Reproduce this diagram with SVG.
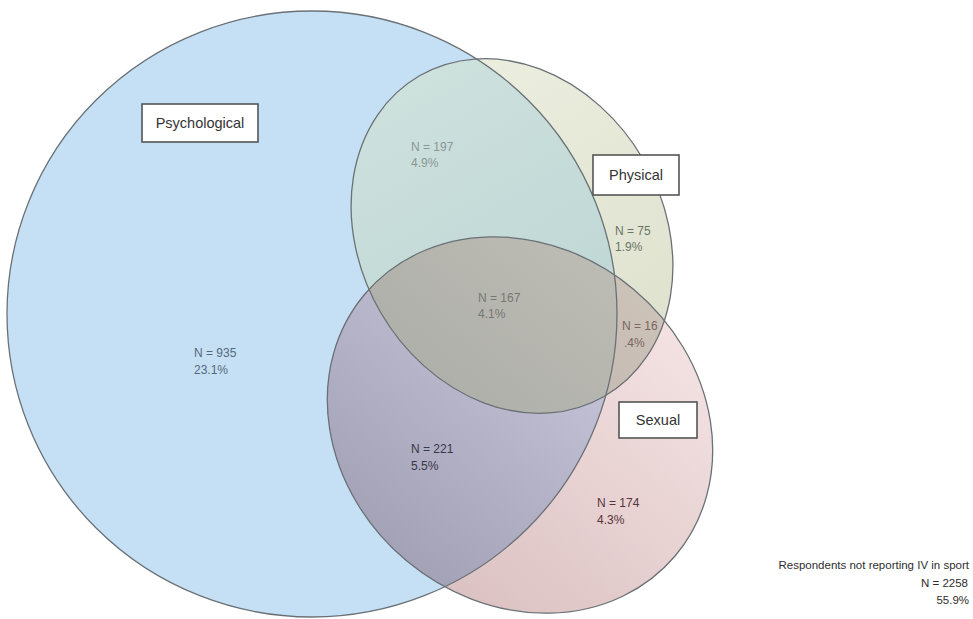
<svg xmlns="http://www.w3.org/2000/svg" width="973" height="619" viewBox="0 0 973 619">
  <style>
    .outline { fill: none; stroke: #6a7176; stroke-width: 1.3; }
    .box { fill: #ffffff; stroke: #555555; stroke-width: 1.6; }
    .title { font-family: "Liberation Sans", Arial, sans-serif; font-size: 14.5px; fill: #333333; text-anchor: middle; }
    .val { font-family: "Liberation Sans", Arial, sans-serif; font-size: 12px; }
    .note { font-family: "Liberation Sans", Arial, sans-serif; font-size: 11.5px; fill: #2e2e2e; text-anchor: end; }
  </style>
  <defs>
    <clipPath id="cPsy"><ellipse cx="312" cy="314" rx="305" ry="303"/></clipPath>
    <clipPath id="cPhy"><ellipse cx="0" cy="0" rx="152" ry="185" transform="translate(512 236) rotate(-30)"/></clipPath>
    <linearGradient id="gPhy" x1="0" y1="0" x2="0" y2="1">
      <stop offset="0" stop-color="#eceedf"/>
      <stop offset="1" stop-color="#dde1cd"/>
    </linearGradient>
    <linearGradient id="gPsyPhy" x1="0" y1="0" x2="0" y2="1">
      <stop offset="0" stop-color="#cde1dd"/>
      <stop offset="1" stop-color="#bcd4d3"/>
    </linearGradient>
    <linearGradient id="gSex" x1="0" y1="0" x2="0" y2="1">
      <stop offset="0" stop-color="#f4e2e2"/>
      <stop offset="1" stop-color="#dbc1c2"/>
    </linearGradient>
    <linearGradient id="gPsySex" x1="0" y1="0" x2="0" y2="1">
      <stop offset="0" stop-color="#cecbe0"/>
      <stop offset="1" stop-color="#a3a2b6"/>
    </linearGradient>
    <linearGradient id="gPhySex" x1="0" y1="0" x2="0" y2="1">
      <stop offset="0" stop-color="#cbc2b8"/>
      <stop offset="1" stop-color="#bcaaa6"/>
    </linearGradient>
    <linearGradient id="gTriple" x1="0" y1="0" x2="0" y2="1">
      <stop offset="0" stop-color="#bcbcb5"/>
      <stop offset="1" stop-color="#a6a6a1"/>
    </linearGradient>
  </defs>

  <rect x="0" y="0" width="973" height="619" fill="#ffffff"/>

  <g id="region-fills">
    <ellipse cx="312" cy="314" rx="305" ry="303" fill="#c5e0f4"/>
    <ellipse cx="0" cy="0" rx="152" ry="185" transform="translate(512 236) rotate(-30)" fill="url(#gPhy)"/>
    <g clip-path="url(#cPsy)">
      <ellipse cx="0" cy="0" rx="152" ry="185" transform="translate(512 236) rotate(-30)" fill="url(#gPsyPhy)"/>
    </g>
    <ellipse cx="0" cy="0" rx="203" ry="177" transform="translate(520 425) rotate(40)" fill="url(#gSex)"/>
    <g clip-path="url(#cPsy)">
      <ellipse cx="0" cy="0" rx="203" ry="177" transform="translate(520 425) rotate(40)" fill="url(#gPsySex)"/>
    </g>
    <g clip-path="url(#cPhy)">
      <ellipse cx="0" cy="0" rx="203" ry="177" transform="translate(520 425) rotate(40)" fill="url(#gPhySex)"/>
    </g>
    <g clip-path="url(#cPhy)">
      <g clip-path="url(#cPsy)">
        <ellipse cx="0" cy="0" rx="203" ry="177" transform="translate(520 425) rotate(40)" fill="url(#gTriple)"/>
      </g>
    </g>
  </g>

  <g id="psychological">
    <ellipse class="outline" cx="312" cy="314" rx="305" ry="303"/>
    <rect class="box" x="142" y="104" width="116" height="38"/>
    <text class="title" x="200" y="128">Psychological</text>
  </g>

  <g id="physical">
    <ellipse class="outline" cx="0" cy="0" rx="152" ry="185" transform="translate(512 236) rotate(-30)"/>
    <rect class="box" x="593" y="155" width="86" height="40"/>
    <text class="title" x="636" y="180">Physical</text>
  </g>

  <g id="sexual">
    <ellipse class="outline" cx="0" cy="0" rx="203" ry="177" transform="translate(520 425) rotate(40)"/>
    <rect class="box" x="619" y="402" width="78" height="36"/>
    <text class="title" x="658" y="425">Sexual</text>
  </g>

  <g id="values">
    <text class="val" fill="#8a9696" x="411" y="151">N = 197</text>
    <text class="val" fill="#8a9696" x="411" y="167">4.9%</text>
    <text class="val" fill="#56697c" x="194" y="357">N = 935</text>
    <text class="val" fill="#56697c" x="194" y="374">23.1%</text>
    <text class="val" fill="#767672" x="478" y="302">N = 167</text>
    <text class="val" fill="#767672" x="478" y="318">4.1%</text>
    <text class="val" fill="#6a7566" x="615" y="235">N = 75</text>
    <text class="val" fill="#6a7566" x="615" y="251">1.9%</text>
    <text class="val" fill="#7a6662" x="622" y="330">N = 16</text>
    <text class="val" fill="#7a6662" x="624" y="347">.4%</text>
    <text class="val" fill="#37374a" x="411" y="453">N = 221</text>
    <text class="val" fill="#37374a" x="411" y="470">5.5%</text>
    <text class="val" fill="#55343a" x="597" y="507">N = 174</text>
    <text class="val" fill="#55343a" x="597" y="524">4.3%</text>
  </g>

  <g id="outside-note">
    <text class="note" x="969" y="569">Respondents not reporting IV in sport</text>
    <text class="note" x="968" y="587">N = 2258</text>
    <text class="note" x="969" y="604">55.9%</text>
  </g>
</svg>
